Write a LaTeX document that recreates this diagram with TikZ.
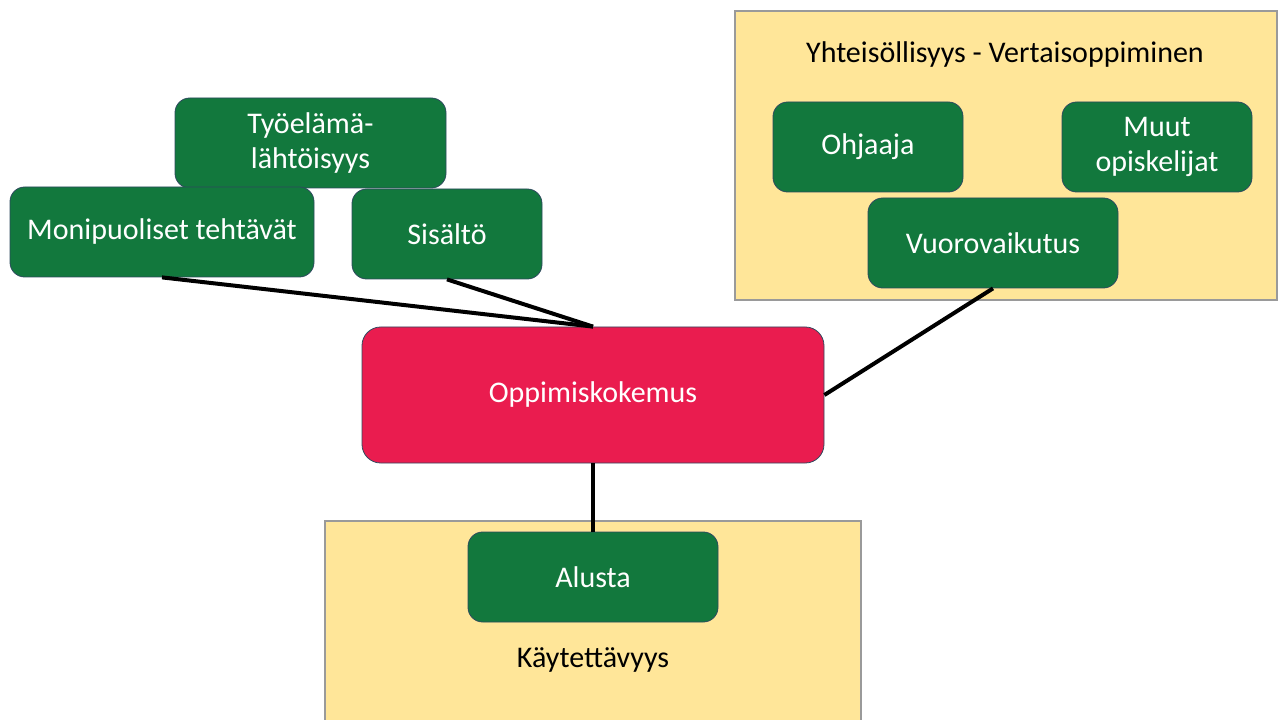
\documentclass[tikz,border=0pt]{standalone}
\usepackage{fontspec}
\setmainfont{Carlito}
\definecolor{gbox}{HTML}{12783D}
\definecolor{gborder}{HTML}{2E4A5E}
\definecolor{ybox}{HTML}{FFE699}
\definecolor{yborder}{HTML}{9A9A9A}
\definecolor{rbox}{HTML}{EA1C4F}
\begin{document}
\begin{tikzpicture}[x=0.75pt,y=-0.75pt,
  gnode/.style={draw=gborder,line width=0.6pt,fill=gbox,rounded corners=11pt,
    text=white,inner sep=0pt,minimum height=67.5pt,align=center,
    font=\fontsize{22.5}{26.5}\selectfont},
  area/.style={draw=yborder,line width=0.8pt,fill=ybox},
  areatitle/.style={text=black,font=\fontsize{22.5}{26}\selectfont},
  link/.style={line width=3pt,black}]
\useasboundingbox (0,0) rectangle (1279,720);
% background areas
\draw[area] (735,11) rectangle (1277,300);
\draw[area] (325,521) rectangle (861,730);
\node[areatitle] (ttop) at (1005,55) {Yhteisöllisyys - Vertaisoppiminen};
\node[areatitle] (tbot) at (593,660) {Käytettävyys};
% left cluster
\node[gnode,minimum width=203.25pt] (tyo) at (310.5,143) {Työelämä-\\lähtöisyys};
\node[gnode,minimum width=228pt] (moni) at (162,232) {Monipuoliset tehtävät};
\node[gnode,minimum width=142.5pt] (sis) at (447,234) {Sisältö};
% right cluster
\node[gnode,minimum width=142.5pt] (ohj) at (868,147) {Ohjaaja};
\node[gnode,minimum width=142.5pt] (muut) at (1157,147) {Muut\\opiskelijat};
\node[gnode,minimum width=187.5pt] (vuo) at (993,243) {Vuorovaikutus};
% bottom
\node[gnode,minimum width=187.5pt] (alu) at (593,577) {Alusta};
% centre
\node[draw=gborder,line width=0.6pt,fill=rbox,rounded corners=14pt,text=white,
  inner sep=0pt,minimum width=346.5pt,minimum height=102pt,
  font=\fontsize{22.5}{26}\selectfont] (opp) at (593,395) {Oppimiskokemus};
% connectors
\draw[link] (moni.south) -- (opp.north);
\draw[link] (sis.south) -- (opp.north);
\draw[link] (vuo.south) -- (opp.east);
\draw[link] (opp.south) -- (alu.north);
\end{tikzpicture}
\end{document}
